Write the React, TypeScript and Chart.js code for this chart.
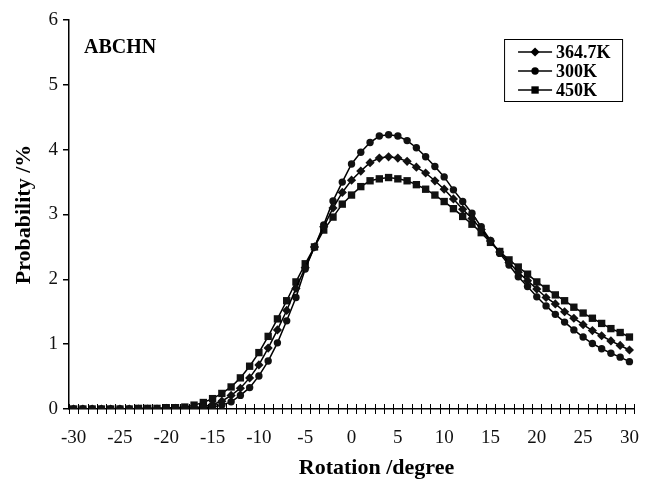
import React, { useEffect, useRef } from 'react';
import { Chart, registerables } from 'chart.js';

Chart.register(...registerables);

const angles = [
  -30, -29, -28, -27, -26, -25, -24, -23, -22, -21, -20, -19, -18, -17, -16, -15,
  -14, -13, -12, -11, -10, -9, -8, -7, -6, -5, -4, -3, -2, -1, 0, 1, 2, 3, 4, 5,
  6, 7, 8, 9, 10, 11, 12, 13, 14, 15, 16, 17, 18, 19, 20, 21, 22, 23, 24, 25, 26,
  27, 28, 29, 30,
];

const series364 = [
  0.0, 0.0, 0.0, 0.0, 0.0, 0.0, 0.0, 0.0, 0.0, 0.0, 0.01, 0.01, 0.01, 0.02, 0.04, 0.07,
  0.12, 0.21, 0.32, 0.48, 0.68, 0.94, 1.22, 1.52, 1.86, 2.18, 2.5, 2.81, 3.1, 3.34, 3.53, 3.67,
  3.8, 3.87, 3.89, 3.87, 3.82, 3.73, 3.64, 3.52, 3.39, 3.24, 3.08, 2.94, 2.77, 2.59, 2.42, 2.26,
  2.11, 1.98, 1.85, 1.72, 1.62, 1.5, 1.4, 1.3, 1.21, 1.13, 1.05, 0.98, 0.91,
];

const series300 = [
  0.0, 0.0, 0.0, 0.0, 0.0, 0.0, 0.0, 0.0, 0.0, 0.0, 0.0, 0.0, 0.0, 0.01, 0.02, 0.03,
  0.06, 0.11, 0.21, 0.33, 0.51, 0.74, 1.02, 1.36, 1.72, 2.16, 2.5, 2.84, 3.21, 3.5, 3.78, 3.96,
  4.11, 4.21, 4.23, 4.21, 4.14, 4.03, 3.89, 3.74, 3.58, 3.38, 3.2, 3.02, 2.81, 2.6, 2.4, 2.22,
  2.04, 1.89, 1.73, 1.59, 1.46, 1.34, 1.22, 1.11, 1.01, 0.93, 0.86, 0.8, 0.73,
];

const series450 = [
  0.0, 0.0, 0.0, 0.0, 0.0, 0.0, 0.0, 0.01, 0.01, 0.01, 0.02, 0.02, 0.03, 0.06, 0.1, 0.16,
  0.24, 0.34, 0.48, 0.66, 0.87, 1.12, 1.39, 1.67, 1.96, 2.24, 2.5, 2.76, 2.96, 3.16, 3.3, 3.43,
  3.52, 3.55, 3.57, 3.55, 3.52, 3.46, 3.39, 3.3, 3.2, 3.09, 2.97, 2.85, 2.72, 2.57, 2.43, 2.3,
  2.19, 2.08, 1.96, 1.86, 1.76, 1.67, 1.57, 1.48, 1.4, 1.32, 1.24, 1.18, 1.11,
];

const seriesLabels = ['364.7K', '300K', '450K'];
const xTickValues = [-30, -25, -20, -15, -10, -5, 0, 5, 10, 15, 20, 25, 30];
const yTickValues = [0, 1, 2, 3, 4, 5, 6];
const panelLabel = 'ABCHN';
const xTitle = 'Rotation /degree';
const yTitle = 'Probability /%';

const FONT = '"Liberation Serif", "Times New Roman", serif';

function drawMarker(ctx: CanvasRenderingContext2D, style: string, x: number, y: number, r: number) {
  ctx.beginPath();
  if (style === 'circle') {
    ctx.arc(x, y, r, 0, Math.PI * 2);
  } else if (style === 'rect') {
    const s = r * Math.SQRT1_2;
    ctx.rect(x - s, y - s, 2 * s, 2 * s);
  } else {
    ctx.moveTo(x - r, y);
    ctx.lineTo(x, y - r);
    ctx.lineTo(x + r, y);
    ctx.lineTo(x, y + r);
    ctx.closePath();
  }
  ctx.fill();
}

const decorPlugin = {
  id: 'decor',
  afterDraw(chart: any) {
    const { ctx, chartArea, scales } = chart;
    const xs = scales.x;
    const y0 = scales.y.getPixelForValue(0);
    ctx.save();
    // crossing tick marks at category boundaries
    ctx.strokeStyle = '#000';
    ctx.lineWidth = 1;
    for (let i = 0; i <= angles.length; i++) {
      const px = Math.round(xs.getPixelForValue(angles[0] - 0.5 + i)) + 0.5;
      ctx.beginPath();
      ctx.moveTo(px, y0 - 5);
      ctx.lineTo(px, y0 + 5);
      ctx.stroke();
    }
    // panel label
    ctx.fillStyle = '#000';
    ctx.font = `bold 20px ${FONT}`;
    ctx.textAlign = 'left';
    ctx.textBaseline = 'middle';
    ctx.fillText(panelLabel, chartArea.left + 15, chartArea.top + 28);
    // axis titles
    ctx.font = `bold 22px ${FONT}`;
    ctx.textAlign = 'center';
    ctx.fillText(xTitle, (chartArea.left + chartArea.right) / 2 + 25, 468);
    ctx.save();
    ctx.translate(24, (chartArea.top + chartArea.bottom) / 2);
    ctx.rotate(-Math.PI / 2);
    ctx.fillText(yTitle, 0, 0);
    ctx.restore();
    // legend
    const bx = chartArea.right - 130;
    const by = chartArea.top + 19;
    const bw = 118;
    const bh = 62;
    ctx.fillStyle = '#fff';
    ctx.fillRect(bx, by, bw, bh);
    ctx.strokeStyle = '#000';
    ctx.lineWidth = 1;
    ctx.strokeRect(bx + 0.5, by + 0.5, bw, bh);
    ctx.font = `bold 18px ${FONT}`;
    ctx.textAlign = 'left';
    chart.data.datasets.forEach((ds: any, i: number) => {
      const ly = by + 13 + i * 19;
      ctx.strokeStyle = '#000';
      ctx.lineWidth = 1.5;
      ctx.beginPath();
      ctx.moveTo(bx + 14, ly);
      ctx.lineTo(bx + 48, ly);
      ctx.stroke();
      ctx.fillStyle = '#000';
      drawMarker(ctx, ds.pointStyle, bx + 31, ly, ds.pointRadius);
      ctx.fillText(ds.label, bx + 52, ly + 1);
    });
    ctx.restore();
  },
};

export default function App() {
  const canvasRef = useRef<HTMLCanvasElement | null>(null);

  useEffect(() => {
    document.body.style.margin = '0';
    const canvas = canvasRef.current;
    if (!canvas) return;
    const mk = (vals: number[]) => angles.map((a, i) => ({ x: a, y: vals[i] }));
    const styles = ['rectRot', 'circle', 'rect'];
    const radii = [4.6, 3.7, 5.2];
    const allSeries = [series364, series300, series450];
    const chart = new Chart(canvas, {
      type: 'line',
      data: {
        datasets: allSeries.map((s, i) => ({
          label: seriesLabels[i],
          data: mk(s),
          borderColor: '#000',
          backgroundColor: '#000',
          borderWidth: 1.5,
          pointStyle: styles[i],
          pointRadius: radii[i],
          pointBorderWidth: 0,
          pointBackgroundColor: '#111',
          tension: 0,
          fill: false,
        })),
      },
      options: {
        animation: false,
        responsive: true,
        maintainAspectRatio: false,
        layout: { padding: { top: 20, right: 8, left: 0, bottom: 0 } },
        plugins: { legend: { display: false }, tooltip: { enabled: false } },
        scales: {
          x: {
            type: 'linear',
            min: -30.5,
            max: 30.5,
            afterBuildTicks: (scale: any) => {
              scale.ticks = xTickValues.map((v) => ({ value: v }));
            },
            afterFit: (scale: any) => {
              scale.height = 72;
            },
            grid: {
              display: true,
              drawOnChartArea: false,
              color: 'rgba(0,0,0,0)',
              tickLength: 6,
            },
            border: { display: true, color: '#000', width: 1.5 },
            ticks: {
              autoSkip: false,
              maxRotation: 0,
              padding: 12,
              color: '#111',
              font: { family: FONT, size: 19 },
            },
          },
          y: {
            type: 'linear',
            min: 0,
            max: 6,
            afterBuildTicks: (scale: any) => {
              scale.ticks = yTickValues.map((v) => ({ value: v }));
            },
            afterFit: (scale: any) => {
              scale.width = 69;
            },
            grid: {
              display: true,
              drawOnChartArea: false,
              color: '#000',
              tickLength: 6,
              lineWidth: 1.5,
            },
            border: { display: true, color: '#000', width: 1.5 },
            ticks: {
              padding: 5,
              color: '#111',
              font: { family: FONT, size: 19 },
            },
          },
        },
      },
      plugins: [decorPlugin],
    } as any);
    return () => chart.destroy();
  }, []);

  return (
    <div style={{ width: 651, height: 481, position: 'relative', background: '#fff' }}>
      <canvas ref={canvasRef} />
    </div>
  );
}
